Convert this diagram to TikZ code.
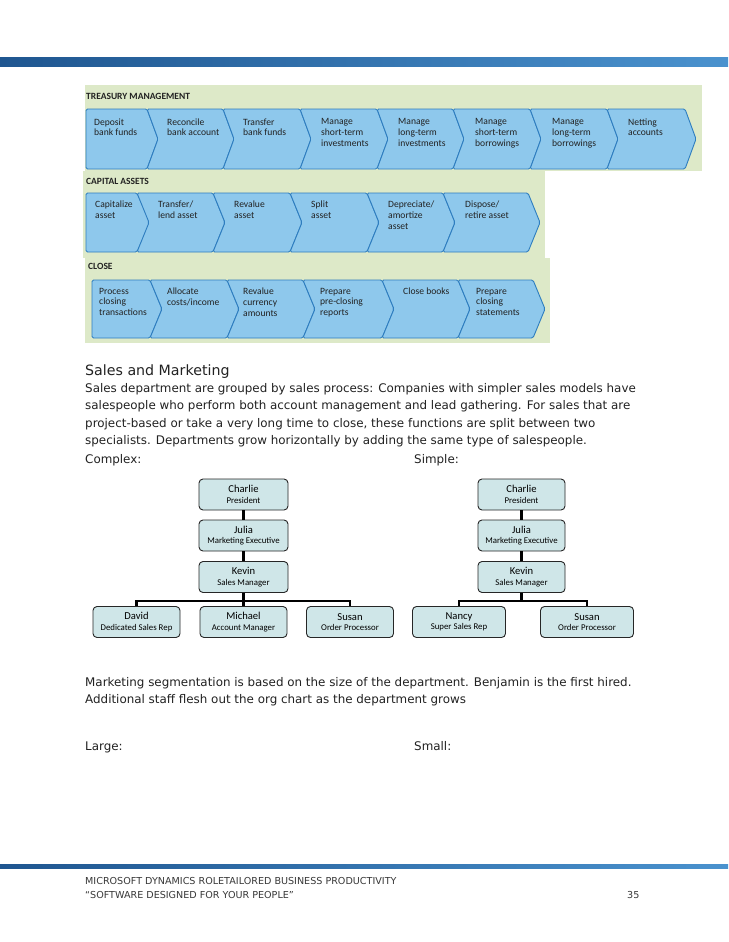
\documentclass[tikz,border=0pt]{standalone}
\usepackage{fontspec}
\setmainfont{DejaVu Sans}
\newfontfamily\carlito{Carlito}
\usetikzlibrary{calc}
\definecolor{greenbg}{HTML}{DDE9C8}
\definecolor{chevfill}{HTML}{8EC8EC}
\definecolor{chevline}{HTML}{2E7DBF}
\definecolor{boxfill}{HTML}{CFE6E8}
\definecolor{bardark}{HTML}{1F5690}
\definecolor{barlight}{HTML}{4A92CE}
\definecolor{txt}{HTML}{222222}
\newcommand\rolesize{\fontsize{8.8}{10}\selectfont}
\begin{document}
\begin{tikzpicture}[x=1pt,y=-1pt,
  chev/.style={fill=chevfill,draw=chevline,line width=0.9pt,rounded corners=1.5pt,line join=round},
  chevtext/.style={anchor=north west,inner sep=0pt,align=left,text=txt,font=\carlito\fontsize{9.6}{10.6}\selectfont},
  sectitle/.style={anchor=west,inner sep=0pt,text=txt,font=\carlito\bfseries\fontsize{9.5}{11}\selectfont},
  body/.style={anchor=base west,inner sep=0pt,text=txt,font=\fontsize{11.9}{14}\selectfont},
  foot/.style={anchor=base west,inner sep=0pt,text=txt!90,font=\fontsize{9.6}{12}\selectfont},
  orgbox/.style={draw=black!85,line width=0.9pt,fill=boxfill,rounded corners=4pt,minimum width=89pt,minimum height=31pt,inner sep=0pt,align=center,text=black,font=\carlito\fontsize{10.6}{11}\selectfont},
  wideorg/.style={orgbox,minimum width=93pt},
  conn/.style={line width=2.9pt,black}]
\useasboundingbox (0,0) rectangle (728,942);
\fill[white] (0,0) rectangle (728,942);
% top and bottom bars
\shade[left color=bardark,right color=barlight] (0,58) rectangle (728,67);
\shade[left color=bardark,right color=barlight] (0,864) rectangle (728,868);
% green backgrounds
\fill[greenbg] (85,85) rectangle (702,171);
\fill[greenbg] (83,171) rectangle (545,258);
\fill[greenbg] (85,258) rectangle (550,343);
% treasury
\node[sectitle] (tmtitle) at (86,96) {TREASURY MANAGEMENT};
\filldraw[chev] (86,109) -- (147,109) -- (158,139) -- (147,169) -- (86,169) -- cycle;
\foreach \a/\b in {147/223,223/300,300/377,377/453,453/530,530/607,607/685}
  \filldraw[chev] (\a,109) -- (\b,109) -- ({\b+11},139) -- (\b,169) -- (\a,169) -- ({\a+11},139) -- cycle;
\node[chevtext] (t1) at (94,118.5) {Deposit\\bank funds};
\node[chevtext] (t2) at (167,118.5) {Reconcile\\bank account};
\node[chevtext] (t3) at (243,118.5) {Transfer\\bank funds};
\node[chevtext] (t4) at (321,118.5) {Manage\\short-term\\investments};
\node[chevtext] (t5) at (398,118.5) {Manage\\long-term\\investments};
\node[chevtext] (t6) at (475,118.5) {Manage\\short-term\\borrowings};
\node[chevtext] (t7) at (552,118.5) {Manage\\long-term\\borrowings};
\node[chevtext] (t8) at (628,118.5) {Netting\\accounts};
% capital assets
\node[sectitle] (catitle) at (86,181) {CAPITAL ASSETS};
\filldraw[chev] (86,193) -- (137,193) -- (150,222.5) -- (137,252) -- (86,252) -- cycle;
\foreach \a/\b in {137/213,213/290,290/367,367/443,443/528}
  \filldraw[chev] (\a,193) -- (\b,193) -- ({\b+12},222.5) -- (\b,252) -- (\a,252) -- ({\a+12},222.5) -- cycle;
\node[chevtext] (c1) at (95,201) {Capitalize\\asset};
\node[chevtext] (c2) at (158,201) {Transfer/\\lend asset};
\node[chevtext] (c3) at (234,201) {Revalue\\asset};
\node[chevtext] (c4) at (311,201) {Split\\asset};
\node[chevtext] (c5) at (388,201) {Depreciate/\\amortize\\asset};
\node[chevtext] (c6) at (465,201) {Dispose/\\retire asset};
% close
\node[sectitle] (cltitle) at (88,266) {CLOSE};
\filldraw[chev] (92,280) -- (150,280) -- (162,309) -- (150,338) -- (92,338) -- cycle;
\foreach \a/\b in {150/227,227/303,303/382,382/458,458/533}
  \filldraw[chev] (\a,280) -- (\b,280) -- ({\b+12},309) -- (\b,338) -- (\a,338) -- ({\a+12},309) -- cycle;
\node[chevtext] (k1) at (99,288) {Process\\closing\\transactions};
\node[chevtext] (k2) at (167,288) {Allocate\\costs/income};
\node[chevtext] (k3) at (243,288) {Revalue\\currency\\amounts};
\node[chevtext] (k4) at (320,288) {Prepare\\pre-closing\\reports};
\node[chevtext] (k5) at (403,288) {Close books};
\node[chevtext] (k6) at (476,288) {Prepare\\closing\\statements};
% sales text
\node[anchor=base west,inner sep=0pt,text=txt,font=\fontsize{14.2}{16}\selectfont] (head) at (85,375) {Sales and Marketing};
\node[body] (p1) at (85,392) {Sales department are grouped by sales process: Companies with simpler sales models have};
\node[body] (p2) at (85,409.5) {salespeople who perform both account management and lead gathering. For sales that are};
\node[body] (p3) at (85,427) {project-based or take a very long time to close, these functions are split between two};
\node[body] (p4) at (85,444.5) {specialists. Departments grow horizontally by adding the same type of salespeople.};
\node[body] (cx) at (85,463) {Complex:};
\node[body] (sp) at (414,463) {Simple:};
% complex chart
\node[orgbox] (charlie) at (243.5,494.5) {Charlie\\[-0.5pt]\rolesize President};
\node[orgbox] (julia) at (243.5,535.5) {Julia\\[-0.5pt]\rolesize Marketing Executive};
\node[orgbox] (kevin) at (243.5,577) {Kevin\\[-0.5pt]\rolesize Sales Manager};
\node[orgbox,minimum width=87pt] (david) at (136.5,622) {David\\[-0.5pt]\rolesize Dedicated Sales Rep};
\node[orgbox,minimum width=87pt] (michael) at (243.5,622) {Michael\\[-0.5pt]\rolesize Account Manager};
\node[orgbox,minimum width=87pt] (susan) at (350,622) {Susan\\[-0.5pt]\rolesize Order Processor};
\draw[conn] (charlie) -- (julia);
\draw[conn] (julia) -- (kevin);
\draw[conn] (kevin) -- (michael);
\draw[conn] (kevin.south) -- ++(0,8) -| (david.north);
\draw[conn] (kevin.south) -- ++(0,8) -| (susan.north);
% simple chart
\node[orgbox,minimum width=87pt] (charlieb) at (521.5,494.5) {Charlie\\[-0.5pt]\rolesize President};
\node[orgbox,minimum width=87pt] (juliab) at (521.5,535.5) {Julia\\[-0.5pt]\rolesize Marketing Executive};
\node[orgbox,minimum width=87pt] (kevinb) at (521.5,577) {Kevin\\[-0.5pt]\rolesize Sales Manager};
\node[wideorg] (nancy) at (459,622) {Nancy\\[-0.5pt]\rolesize Super Sales Rep};
\node[wideorg] (susanb) at (587,622) {Susan\\[-0.5pt]\rolesize Order Processor};
\draw[conn] (charlieb) -- (juliab);
\draw[conn] (juliab) -- (kevinb);
\draw[conn] (kevinb.south) -- ++(0,8) -| (nancy.north);
\draw[conn] (kevinb.south) -- ++(0,8) -| (susanb.north);
% marketing text
\node[body] (m1) at (85,686) {Marketing segmentation is based on the size of the department. Benjamin is the first hired.};
\node[body] (m2) at (85,703) {Additional staff flesh out the org chart as the department grows};
\node[body] (lg) at (85,750) {Large:};
\node[body] (sm) at (414,750) {Small:};
% footer
\node[foot] (f1) at (85,884.5) {MICROSOFT DYNAMICS ROLETAILORED BUSINESS PRODUCTIVITY};
\node[foot] (f2) at (85,898) {“SOFTWARE DESIGNED FOR YOUR PEOPLE”};
\node[foot] (pg) at (627,898) {35};
\end{tikzpicture}
\end{document}
